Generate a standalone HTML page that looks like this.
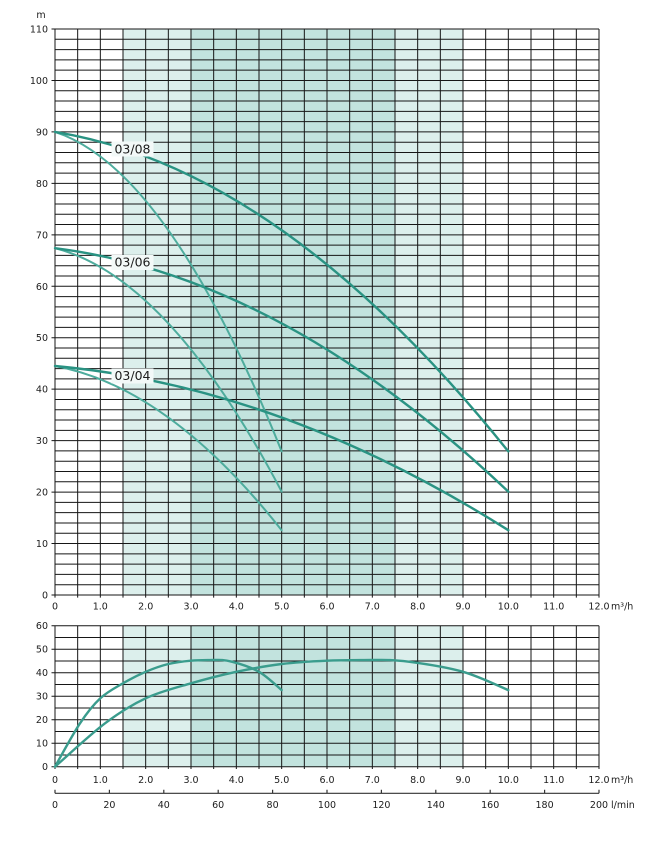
<!DOCTYPE html>
<html>
<head>
<meta charset="utf-8">
<style>
  html,body{margin:0;padding:0;background:#fff;}
  svg{display:block;}
  text{font-family:"DejaVu Sans","Liberation Sans",sans-serif;fill:#1c1c1c;}
  .ax{font-size:9.5px;}
  .lbl{font-size:12.5px;}
  .g{fill:none;stroke:#161616;stroke-width:1;}
</style>
</head>
<body>
<svg width="664" height="841" viewBox="0 0 664 841" xmlns="http://www.w3.org/2000/svg">
  <!-- ============ TOP CHART ============ -->
  <!-- bands -->
  <rect x="123" y="29" width="68" height="566" fill="#dcefec"/>
  <rect x="191" y="29" width="204" height="566" fill="#c2e3de"/>
  <rect x="395" y="29" width="68" height="566" fill="#dcefec"/>

  <g transform="translate(55 595) scale(45.3333 -5.14545)">
    <path class="g" vector-effect="non-scaling-stroke" d="
      M0 0H12M0 2H12M0 4H12M0 6H12M0 8H12M0 10H12M0 12H12M0 14H12M0 16H12M0 18H12
      M0 20H12M0 22H12M0 24H12M0 26H12M0 28H12M0 30H12M0 32H12M0 34H12M0 36H12M0 38H12
      M0 40H12M0 42H12M0 44H12M0 46H12M0 48H12M0 50H12M0 52H12M0 54H12M0 56H12M0 58H12
      M0 60H12M0 62H12M0 64H12M0 66H12M0 68H12M0 70H12M0 72H12M0 74H12M0 76H12M0 78H12
      M0 80H12M0 82H12M0 84H12M0 86H12M0 88H12M0 90H12M0 92H12M0 94H12M0 96H12M0 98H12
      M0 100H12M0 102H12M0 104H12M0 106H12M0 108H12M0 110H12
      M0 -0.5V110M0.5 -0.5V110M1 -0.5V110M1.5 -0.5V110M2 -0.5V110M2.5 -0.5V110M3 -0.5V110
      M3.5 -0.5V110M4 -0.5V110M4.5 -0.5V110M5 -0.5V110M5.5 -0.5V110M6 -0.5V110M6.5 -0.5V110
      M7 -0.5V110M7.5 -0.5V110M8 -0.5V110M8.5 -0.5V110M9 -0.5V110M9.5 -0.5V110M10 -0.5V110
      M10.5 -0.5V110M11 -0.5V110M11.5 -0.5V110M12 -0.5V110"/>
  </g>
  <!-- y ticks -->
  <path stroke="#161616" stroke-width="1" d="M51.5 595H55M51.5 543.55H55M51.5 492.09H55M51.5 440.64H55M51.5 389.18H55M51.5 337.73H55M51.5 286.27H55M51.5 234.82H55M51.5 183.36H55M51.5 131.91H55M51.5 80.45H55M51.5 29H55"/>

  <!-- y labels -->
  <g class="ax" text-anchor="end">
    <text x="48" y="598.5">0</text>
    <text x="48" y="547">10</text>
    <text x="48" y="495.6">20</text>
    <text x="48" y="444.1">30</text>
    <text x="48" y="392.7">40</text>
    <text x="48" y="341.2">50</text>
    <text x="48" y="289.8">60</text>
    <text x="48" y="238.3">70</text>
    <text x="48" y="186.9">80</text>
    <text x="48" y="135.4">90</text>
    <text x="48" y="84">100</text>
    <text x="48" y="32.5">110</text>
  </g>
  <text class="ax" x="41" y="18" text-anchor="middle">m</text>

  <!-- x labels top -->
  <g class="ax" text-anchor="middle">
    <text x="55" y="609.5">0</text>
    <text x="100.3" y="609.5">1.0</text>
    <text x="145.7" y="609.5">2.0</text>
    <text x="191" y="609.5">3.0</text>
    <text x="236.3" y="609.5">4.0</text>
    <text x="281.7" y="609.5">5.0</text>
    <text x="327" y="609.5">6.0</text>
    <text x="372.3" y="609.5">7.0</text>
    <text x="417.7" y="609.5">8.0</text>
    <text x="463" y="609.5">9.0</text>
    <text x="508.3" y="609.5">10.0</text>
    <text x="553.7" y="609.5">11.0</text>
    <text x="599" y="609.5">12.0</text>
  </g>
  <text class="ax" x="611" y="609.5">m³/h</text>

  <!-- curves: steep (lighter) -->
  <g fill="none" stroke="#4eac9d" stroke-width="2" stroke-linecap="round">
    <path d="M55 131.9Q168.3 168.7 281.65 451.4"/>
    <path d="M55 248.2Q168.3 276.75 281.65 491.6"/>
    <path d="M55 366Q168.3 386.9 281.65 530.2"/>
  </g>
  <!-- curves: flat (darker) -->
  <g fill="none" stroke="#2a9383" stroke-width="2.4" stroke-linecap="round">
    <path d="M55 131.9Q281.65 168.7 508.3 451.4"/>
    <path d="M55 248.2Q281.65 276.75 508.3 491.6"/>
    <path d="M55 366Q281.65 386.9 508.3 530.2"/>
  </g>

  <!-- curve labels -->
  <rect x="111.5" y="141.5" width="42" height="15" fill="#f3f9f8"/>
  <rect x="111.5" y="255" width="42" height="15" fill="#f3f9f8"/>
  <rect x="111.5" y="368.5" width="42" height="15" fill="#f3f9f8"/>
  <g class="lbl" text-anchor="middle">
    <text x="132.5" y="153.3">03/08</text>
    <text x="132.5" y="266.7">03/06</text>
    <text x="132.5" y="380">03/04</text>
  </g>

  <!-- ============ BOTTOM CHART ============ -->
  <rect x="123" y="625.7" width="68" height="141" fill="#dcefec"/>
  <rect x="191" y="625.7" width="204" height="141" fill="#c2e3de"/>
  <rect x="395" y="625.7" width="68" height="141" fill="#dcefec"/>

  <g transform="translate(55 766.7) scale(45.3333 -2.35)">
    <path class="g" vector-effect="non-scaling-stroke" d="
      M0 0H12M0 5H12M0 10H12M0 15H12M0 20H12M0 25H12M0 30H12M0 35H12M0 40H12M0 45H12
      M0 50H12M0 55H12M0 60H12
      M0 -1V60M0.5 -1V60M1 -1V60M1.5 -1V60M2 -1V60M2.5 -1V60M3 -1V60
      M3.5 -1V60M4 -1V60M4.5 -1V60M5 -1V60M5.5 -1V60M6 -1V60M6.5 -1V60
      M7 -1V60M7.5 -1V60M8 -1V60M8.5 -1V60M9 -1V60M9.5 -1V60M10 -1V60
      M10.5 -1V60M11 -1V60M11.5 -1V60M12 -1V60"/>
  </g>
  <path stroke="#161616" stroke-width="1" d="M51.5 766.7H55M51.5 743.2H55M51.5 719.7H55M51.5 696.2H55M51.5 672.7H55M51.5 649.2H55M51.5 625.7H55"/>

  <g class="ax" text-anchor="end">
    <text x="48" y="770.2">0</text>
    <text x="48" y="746.7">10</text>
    <text x="48" y="723.2">20</text>
    <text x="48" y="699.7">30</text>
    <text x="48" y="676.2">40</text>
    <text x="48" y="652.7">50</text>
    <text x="48" y="629.2">60</text>
  </g>

  <g class="ax" text-anchor="middle">
    <text x="55" y="782.8">0</text>
    <text x="100.3" y="782.8">1.0</text>
    <text x="145.7" y="782.8">2.0</text>
    <text x="191" y="782.8">3.0</text>
    <text x="236.3" y="782.8">4.0</text>
    <text x="281.7" y="782.8">5.0</text>
    <text x="327" y="782.8">6.0</text>
    <text x="372.3" y="782.8">7.0</text>
    <text x="417.7" y="782.8">8.0</text>
    <text x="463" y="782.8">9.0</text>
    <text x="508.3" y="782.8">10.0</text>
    <text x="553.7" y="782.8">11.0</text>
    <text x="599" y="782.8">12.0</text>
  </g>
  <text class="ax" x="611" y="782.8">m³/h</text>

  <!-- efficiency curves -->
  <g fill="none" stroke="#3a9c8d" stroke-width="2.4" stroke-linecap="round">
    <path d="M55 766.7C59.16 759.49 72.37 734.86 79.93 723.46C87.49 712.06 93.15 704.99 100.33 698.3C107.51 691.61 115.45 687.72 123 683.3C130.56 678.88 138.11 675.02 145.66 671.8C153.22 668.58 160.77 665.85 168.33 664C175.89 662.15 183.45 661.37 191 660.7C198.56 660.03 206.86 660.17 213.66 660C220.46 659.83 224.24 659.73 231.8 661.7C239.36 663.67 250.69 667.07 259 671.8C267.31 676.53 277.88 687.05 281.65 690.1"/>
    <path d="M55 766.7C63.32 759.49 89.74 734.86 104.86 723.46C119.98 712.06 131.3 704.99 145.66 698.3C160.02 691.61 175.9 687.72 191 683.3C206.12 678.88 221.22 675.02 236.32 671.8C251.44 668.58 266.54 665.85 281.66 664C296.78 662.15 311.9 661.37 327 660.7C342.12 660.03 358.72 660.17 372.32 660C385.92 659.83 393.48 659.73 408.6 661.7C423.72 663.67 446.38 667.07 463 671.8C479.62 676.53 500.76 687.05 508.3 690.1"/>
  </g>

  <!-- l/min axis -->
  <path stroke="#333" stroke-width="1.2" fill="none" d="M55 793.3H599M55 789.8V793.3M109.4 789.8V793.3M163.8 789.8V793.3M218.2 789.8V793.3M272.6 789.8V793.3M327 789.8V793.3M381.4 789.8V793.3M435.8 789.8V793.3M490.2 789.8V793.3M544.6 789.8V793.3M599 789.8V793.3"/>
  <g class="ax" text-anchor="middle">
    <text x="55" y="807.8">0</text>
    <text x="109.4" y="807.8">20</text>
    <text x="163.8" y="807.8">40</text>
    <text x="218.2" y="807.8">60</text>
    <text x="272.6" y="807.8">80</text>
    <text x="327" y="807.8">100</text>
    <text x="381.4" y="807.8">120</text>
    <text x="435.8" y="807.8">140</text>
    <text x="490.2" y="807.8">160</text>
    <text x="544.6" y="807.8">180</text>
    <text x="599" y="807.8">200</text>
  </g>
  <text class="ax" x="611" y="807.8">l/min</text>
</svg>
</body>
</html>
